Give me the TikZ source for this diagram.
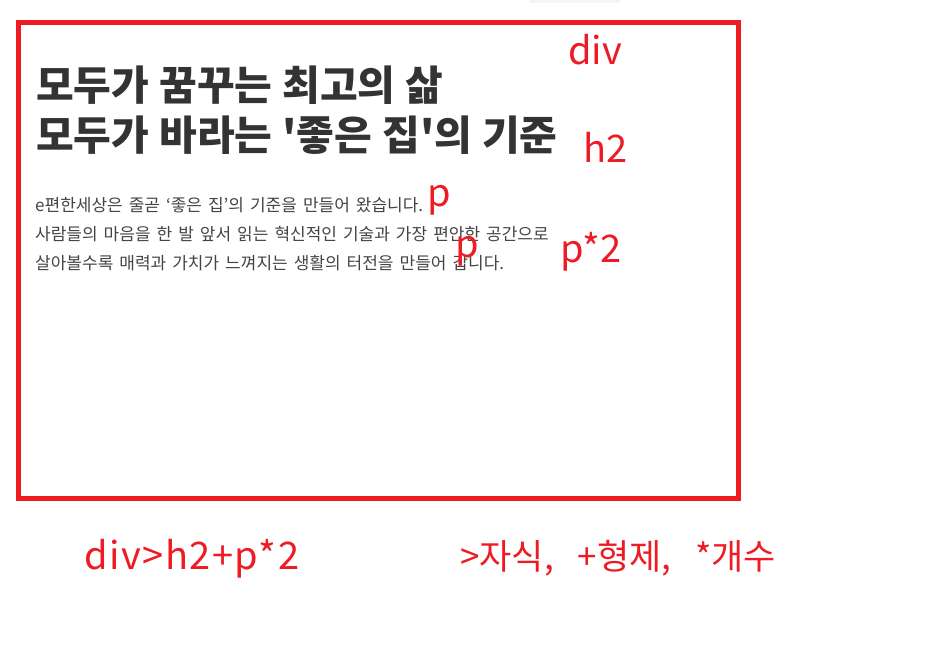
\documentclass[tikz,border=0pt]{standalone}
\usepackage{fontspec}
\usepackage{xcolor}
\newfontfamily\krfont{Noto Sans CJK KR}
\newfontfamily\krwide{Noto Sans CJK KR}[LetterSpace=4]
\definecolor{markred}{HTML}{ED1C24}
\definecolor{inkgray}{HTML}{333333}
\definecolor{bodygray}{HTML}{444444}
\newcommand{\headfont}{\krfont\bfseries\fontsize{41}{48}\selectfont\spaceskip=10pt plus 2pt\relax}
\newcommand{\bodyfont}{\krfont\fontsize{17}{20}\selectfont\spaceskip=6pt plus 1pt\relax}

\begin{document}
\begin{tikzpicture}[x=1pt, y=-1pt,
    heading/.style={anchor=base west, inner sep=0pt, text=inkgray, font=\headfont},
    bodyline/.style={anchor=base west, inner sep=0pt, text=bodygray, font=\bodyfont},
    tag/.style={anchor=base west, inner sep=0pt, text=markred,
      font=\krfont\fontsize{38}{44}\selectfont}]
  \useasboundingbox (0,0) rectangle (937,645);
  \fill[black!4] (530,0) rectangle (620,3);

  % the div box
  \draw[markred, line width=5pt] (18.5,22.5) rectangle (738.5,498.5);

  % h2
  \node[heading] (title1) at (36,100) {모두가 꿈꾸는 최고의 삶};
  \node[heading] (title2) at (36,150) {모두가 바라는 '좋은 집'의 기준};

  % p
  \node[bodyline] (line1) at (35,211) {e편한세상은 줄곧 ‘좋은 집’의 기준을 만들어 왔습니다.};
  \node[bodyline] (line2) at (35,240) {사람들의 마음을 한 발 앞서 읽는 혁신적인 기술과 가장 편안한 공간으로};
  \node[bodyline] (line3) at (35,269) {살아볼수록 매력과 가치가 느껴지는 생활의 터전을 만들어 갑니다.};

  % red notes
  \node[tag] (divtag) at (568,64) {div};
  \node[tag] (htag) at (583,162) {h2};
  \node[tag] (ptag1) at (427,206) {p};
  \node[tag] (ptag2) at (455,257) {p};
  \node[tag] (ptags) at (560,262) {p*2};

  \node[tag, font=\krwide\fontsize{38}{44}\selectfont] (rule) at (84,569) {div>h2+p*2};
  \node[tag, font=\krfont\fontsize{35}{40}\selectfont] (legend) at (460,569)
    {>자식,\hspace{24pt}+형제,\hspace{24pt}*개수};
\end{tikzpicture}
\end{document}
